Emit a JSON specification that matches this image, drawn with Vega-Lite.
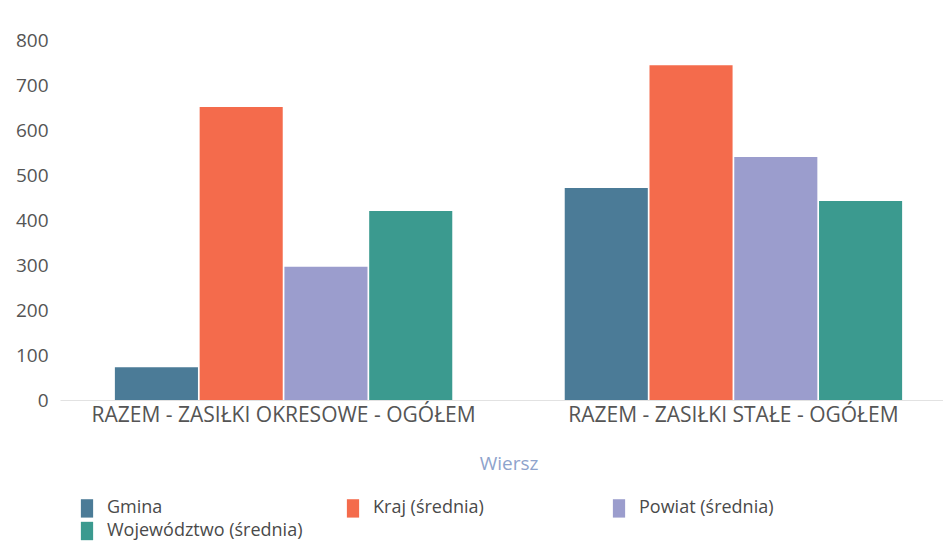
{
  "$schema": "https://vega.github.io/schema/vega-lite/v6.json",
  "autosize": "none",
  "padding": {"left": 60, "top": 40, "right": 0, "bottom": 142},
  "width": 897,
  "height": 360,
  "background": "white",
  "config": {"view": {"stroke": null}, "font": "Open Sans"},
  "data": {"values": [
    {"Wiersz": "RAZEM -  ZASIŁKI OKRESOWE - OGÓŁEM", "Seria": "Gmina", "Wartosc": 73},
    {"Wiersz": "RAZEM -  ZASIŁKI OKRESOWE - OGÓŁEM", "Seria": "Kraj (średnia)", "Wartosc": 651},
    {"Wiersz": "RAZEM -  ZASIŁKI OKRESOWE - OGÓŁEM", "Seria": "Powiat (średnia)", "Wartosc": 296},
    {"Wiersz": "RAZEM -  ZASIŁKI OKRESOWE - OGÓŁEM", "Seria": "Województwo (średnia)", "Wartosc": 420},
    {"Wiersz": "RAZEM -  ZASIŁKI STAŁE - OGÓŁEM", "Seria": "Gmina", "Wartosc": 471},
    {"Wiersz": "RAZEM -  ZASIŁKI STAŁE - OGÓŁEM", "Seria": "Kraj (średnia)", "Wartosc": 744},
    {"Wiersz": "RAZEM -  ZASIŁKI STAŁE - OGÓŁEM", "Seria": "Powiat (średnia)", "Wartosc": 540},
    {"Wiersz": "RAZEM -  ZASIŁKI STAŁE - OGÓŁEM", "Seria": "Województwo (średnia)", "Wartosc": 442}
  ]},
  "mark": {"type": "bar"},
  "encoding": {
    "x": {
      "field": "Wiersz", "type": "nominal", "sort": null,
      "scale": {"paddingInner": 0.25, "paddingOuter": 0.122},
      "axis": {
        "labelAngle": 0, "labelFontSize": 21, "labelColor": "#555555", "labelPadding": 4,
        "ticks": false, "domainColor": "#e2e2e2", "labelLimit": 500,
        "title": "Wiersz", "titleFontSize": 19, "titleFontWeight": "normal", "titleColor": "#8ea3cc", "titlePadding": 29
      }
    },
    "xOffset": {"field": "Seria", "type": "nominal", "scale": {"paddingInner": 0.02}},
    "y": {
      "field": "Wartosc", "type": "quantitative",
      "scale": {"domain": [0, 800]},
      "axis": {
        "title": null, "grid": false, "domain": false, "ticks": false, "tickCount": 8,
        "labelFontSize": 19, "labelColor": "#555555", "labelPadding": 12
      }
    },
    "color": {
      "field": "Seria", "type": "nominal",
      "scale": {"range": ["#4b7b97", "#f46b4c", "#9b9dcd", "#3b9a8f"]},
      "legend": {
        "title": null, "orient": "none", "legendX": 18, "legendY": 459,
        "direction": "horizontal", "columns": 3, "gridAlign": "all", "columnPadding": 41,
        "rowPadding": 3,
        "symbolType": "M-1,-1.5H1V1.5H-1Z", "symbolSize": 150, "symbolStrokeWidth": 0,
        "labelFontSize": 18, "labelColor": "#4a4a4a", "labelOffset": 11, "labelLimit": 400
      }
    }
  }
}
